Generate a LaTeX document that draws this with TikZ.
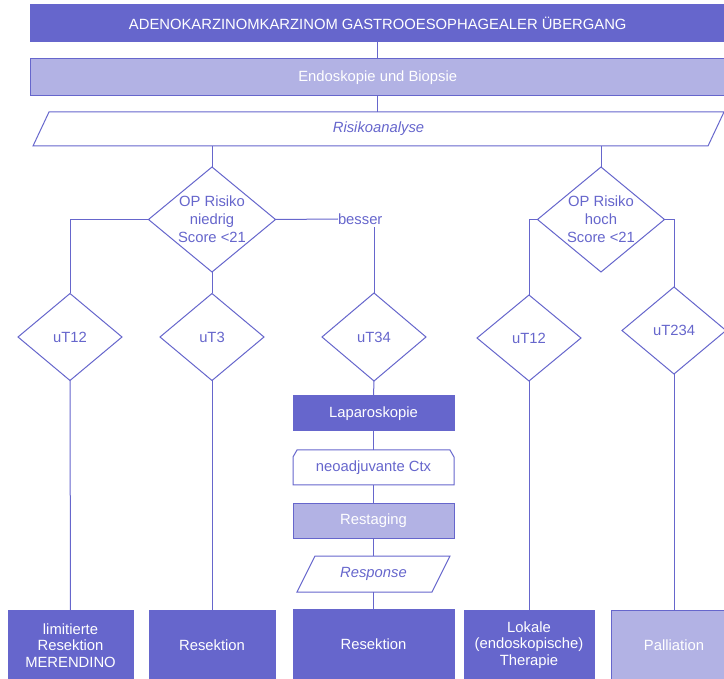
\documentclass[tikz,border=0pt]{standalone}
\usepackage{fontspec}
\setmainfont{Liberation Sans}
\usetikzlibrary{shapes.geometric}
\definecolor{dark}{RGB}{102,102,204}
\definecolor{light}{RGB}{178,178,228}
\begin{document}
\begin{tikzpicture}[x=1pt,y=-1pt,
  every node/.style={font=\fontsize{14.8}{18}\selectfont, inner sep=0pt, outer sep=0pt},
  conn/.style={draw=dark, line width=1pt},
  darkbox/.style={rectangle, draw=dark, fill=dark, text=white, align=center, line width=1pt},
  lightbox/.style={rectangle, draw=dark, fill=light, text=white, align=center, line width=1pt},
  plainbox/.style={rectangle, draw=none, text=dark, align=center},
  dia/.style={diamond, draw=dark, fill=white, line width=1pt, minimum width=104pt, minimum height=87pt},
  dtext/.style={text=dark, align=center},
  endbox/.style={minimum height=70pt, font=\fontsize{14.8}{16.5}\selectfont},
]
\useasboundingbox (0,0) rectangle (724,679);

% header and first steps
\node[darkbox, minimum width=694.5pt, minimum height=37pt] (top) at (377.75,23.5)
  {ADENOKARZINOMKARZINOM GASTROOESOPHAGEALER ÜBERGANG};
\node[lightbox, minimum width=694.5pt, minimum height=37pt] (endo) at (377.75,77.5)
  {Endoskopie und Biopsie};
\node[plainbox, minimum width=675pt, minimum height=34pt,
  font=\fontsize{14.8}{18}\selectfont\itshape] (risk) at (378.5,129) {Risikoanalyse};
\draw[conn] ([xshift=-8pt]risk.south west) -- ([xshift=8pt]risk.north west)
  -- ([xshift=8pt]risk.north east) -- ([xshift=-8pt]risk.south east) -- cycle;

% risk decisions
\node[dia, minimum width=127pt, minimum height=105pt,
  label={[dtext]center:OP Risiko\\niedrig\\Score <21}] (d1) at (212,219.5) {};
\node[dia, minimum width=127pt, minimum height=105pt,
  label={[dtext]center:OP Risiko\\hoch\\Score <21}] (d2) at (601,219.5) {};
\node[text=dark, anchor=west, inner ysep=3pt] (besser) at (338,219) {besser};

% staging decisions
\node[dia, label={[dtext]center:uT12}] (t12a) at (70,337) {};
\node[dia, label={[dtext]center:uT3}] (t3) at (212,337) {};
\node[dia, minimum height=88pt, label={[dtext]center:uT34}] (t34) at (374,337) {};
\node[dia, minimum height=86pt, label={[dtext]center:uT12}] (t12b) at (529,338) {};
\node[dia, label={[dtext]center:uT234}] (t234) at (674,330.5) {};

% middle branch
\node[darkbox, minimum width=161pt, minimum height=35pt] (lap) at (373.5,413.5) {Laparoskopie};
\node[plainbox, minimum width=161pt, minimum height=35pt] (neo) at (373.5,467.5) {neoadjuvante Ctx};
\draw[conn] (neo.south west) -- ([yshift=-7pt]neo.north west) -- ([xshift=4pt]neo.north west)
  -- ([xshift=-4pt]neo.north east) -- ([yshift=-7pt]neo.north east) -- (neo.south east) -- cycle;
\node[lightbox, minimum width=161pt, minimum height=35pt] (rest) at (373.5,520.5) {Restaging};
\node[plainbox, minimum width=135pt, minimum height=36pt,
  font=\fontsize{14.8}{18}\selectfont\itshape] (resp) at (373.5,574) {Response};
\draw[conn] ([xshift=-9pt]resp.south west) -- ([xshift=9pt]resp.north west)
  -- ([xshift=9pt]resp.north east) -- ([xshift=-9pt]resp.south east) -- cycle;

% outcomes
\node[darkbox, endbox, minimum width=125pt] (b1) at (70.5,645.5) {limitierte\\Resektion\\MERENDINO};
\node[darkbox, endbox, minimum width=126pt] (b2) at (212,645) {Resektion};
\node[darkbox, endbox, minimum width=161pt] (b3) at (373.5,644.5) {Resektion};
\node[darkbox, endbox, minimum width=130pt] (b4) at (529,645) {Lokale\\(endoskopische)\\Therapie};
\node[lightbox, endbox, minimum width=126pt] (b5) at (674,645) {Palliation};

% connectors
\draw[conn] (top.south) -- (endo.north);
\draw[conn] (endo.south) -- (endo.south |- risk.north);
\draw[conn] (d1.north |- risk.south) -- (d1.north);
\draw[conn] (d2.north |- risk.south) -- (d2.north);
\draw[conn] (d1.west) -| (t12a.north);
\draw[conn] (d1.south) -- (t3.north);
\draw[conn] (d1.east) -- (besser.west);
\draw[conn] (besser.south -| t34.north) -- (t34.north);
\draw[conn] (d2.west) -| (t12b.north);
\draw[conn] (d2.east) -| (t234.north);
\draw[conn] (t12a.south) -- (b1.north);
\draw[conn] (t3.south) -- (b2.north);
\draw[conn] (t34.south) -- (lap.north);
\draw[conn] (lap.south) -- (neo.north);
\draw[conn] (neo.south) -- (rest.north);
\draw[conn] (rest.south) -- (resp.north);
\draw[conn] (resp.south) -- (b3.north);
\draw[conn] (t12b.south) -- (b4.north);
\draw[conn] (t234.south) -- (b5.north);
\end{tikzpicture}
\end{document}
